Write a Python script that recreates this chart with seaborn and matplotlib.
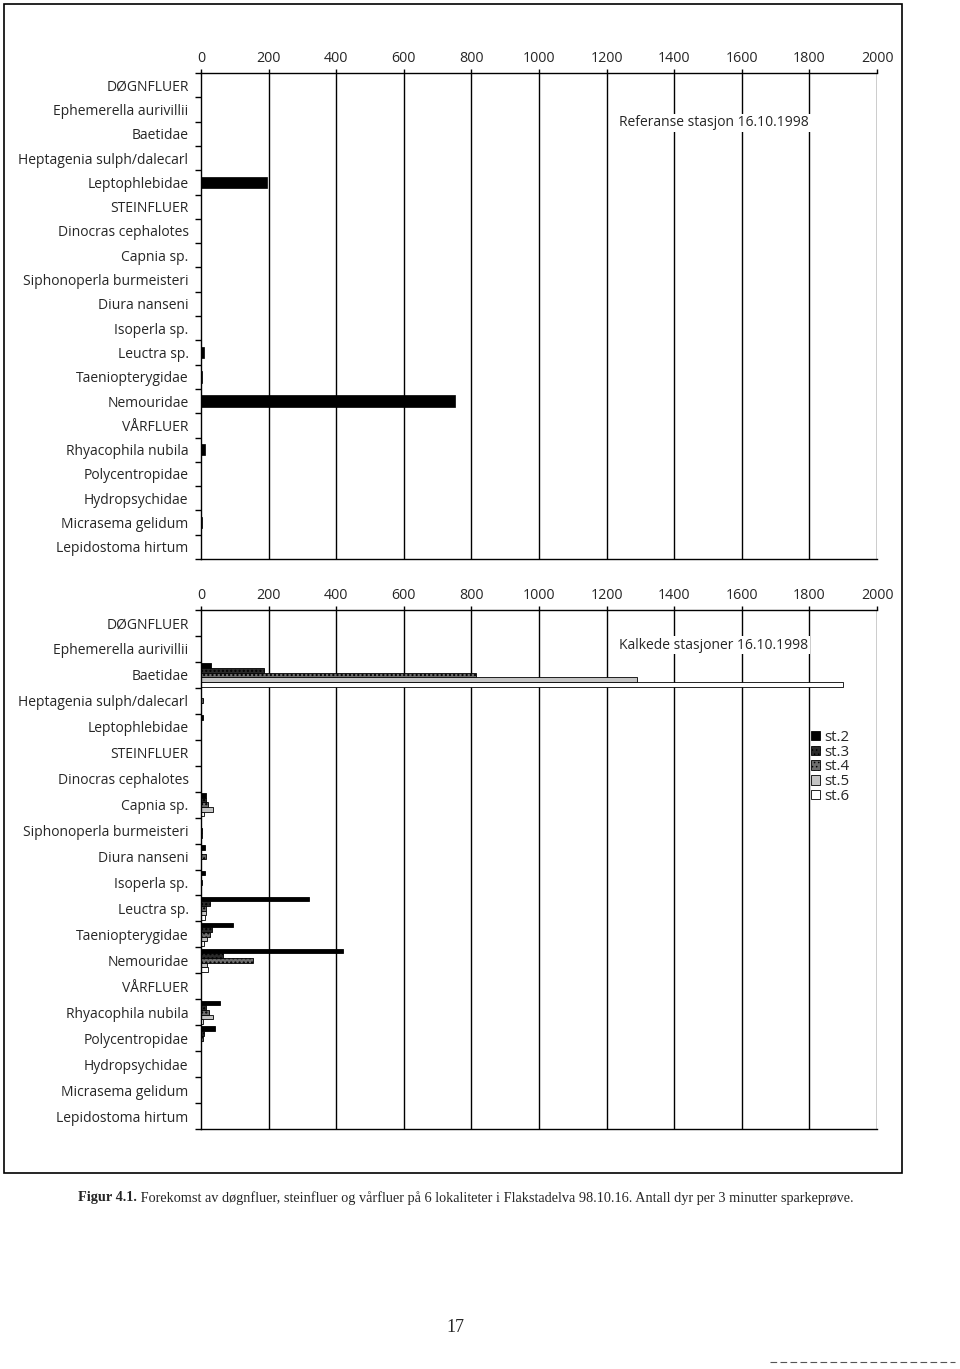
import numpy as np
import pandas as pd
import seaborn as sns
import matplotlib.pyplot as plt
from matplotlib.patches import Rectangle
from matplotlib.lines import Line2D

sns.set_theme(style="white")
plt.rcParams['font.family'] = ['Open Sans', 'DejaVu Sans']

categories = ["DØGNFLUER", "Ephemerella aurivillii", "Baetidae", "Heptagenia sulph/dalecarl",
              "Leptophlebidae", "STEINFLUER", "Dinocras cephalotes", "Capnia sp.",
              "Siphonoperla burmeisteri", "Diura nanseni", "Isoperla sp.", "Leuctra sp.",
              "Taeniopterygidae", "Nemouridae", "VÅRFLUER", "Rhyacophila nubila",
              "Polycentropidae", "Hydropsychidae", "Micrasema gelidum", "Lepidostoma hirtum"]

# Reference station (st.1)
ref_values = [0, 0, 0, 0, 195, 0, 0, 0, 0, 0, 0, 9, 3, 750, 0, 12, 0, 0, 4, 0]

stations = ["st.2", "st.3", "st.4", "st.5", "st.6"]
st2 = [0, 0, 30, 0, 5, 0, 0, 15, 0, 12, 12, 320, 95, 420, 0, 57, 42, 0, 0, 0]
st3 = [0, 0, 187, 0, 0, 0, 0, 15, 0, 0, 0, 27, 33, 65, 0, 15, 10, 0, 0, 0]
st4 = [0, 0, 815, 6, 0, 0, 0, 22, 3, 14, 3, 15, 27, 155, 0, 24, 6, 0, 0, 0]
st5 = [0, 0, 1290, 0, 0, 0, 0, 35, 3, 0, 0, 15, 18, 18, 0, 35, 0, 0, 0, 0]
st6 = [0, 0, 1900, 0, 0, 0, 0, 8, 0, 0, 0, 12, 10, 20, 0, 5, 0, 0, 0, 0]

xticks = list(range(0, 2001, 200))

top_title = "Referanse stasjon 16.10.1998"
bottom_title = "Kalkede stasjoner 16.10.1998"
caption_bold = "Figur 4.1."
caption_rest = (" Forekomst av døgnfluer, steinfluer og vårfluer på 6 lokaliteter i Flakstadelva "
                "98.10.16. Antall dyr per 3 minutter sparkeprøve.")
page_number = "17"

W, H = 960, 1369
fig = plt.figure(figsize=(W / 100, H / 100), dpi=100)
fig.patch.set_facecolor("white")

ax1 = fig.add_axes([201 / W, 1 - 559 / H, 676 / W, 486 / H])
ax2 = fig.add_axes([201 / W, 1 - 1129 / H, 676 / W, 519 / H])

df_ref = pd.DataFrame({"cat": categories, "val": ref_values})
sns.barplot(data=df_ref, y="cat", x="val", order=categories, orient="h",
            color="black", width=0.48, ax=ax1, saturation=1, edgecolor="black", linewidth=0.5)

df_st = pd.DataFrame({
    "cat": categories * 5,
    "val": st2 + st3 + st4 + st5 + st6,
    "station": np.repeat(stations, len(categories)),
})
palette = {"st.2": "#000000", "st.3": "#2a2a2a", "st.4": "#6e6e6e", "st.5": "#c4c4c4", "st.6": "#ffffff"}
sns.barplot(data=df_st, y="cat", x="val", hue="station", order=categories, hue_order=stations,
            orient="h", palette=palette, width=0.9, ax=ax2, saturation=1,
            edgecolor="black", linewidth=0.6)
hatches = {"st.2": None, "st.3": "....", "st.4": "....", "st.5": None, "st.6": None}
plt.rcParams['hatch.linewidth'] = 0.6
for cont, st in zip(ax2.containers, stations):
    for p in cont:
        if hatches[st]:
            p.set_hatch(hatches[st])
            p.set_edgecolor("#000000" if st == "st.4" else "#777777")
    if st == "st.3":
        for p in cont:
            p.set_edgecolor("#000000")

for ax in (ax1, ax2):
    n = len(categories)
    ax.set_xlim(0, 2000)
    ax.set_ylim(n - 0.5, -0.5)
    ax.set_xlabel("")
    ax.set_ylabel("")
    ax.set_xticks(xticks)
    ax.set_xticklabels([str(t) for t in xticks], fontsize=10.3)
    ax.xaxis.tick_top()
    ax.tick_params(axis="x", which="major", direction="out", length=3, width=1,
                   color="black", pad=2, top=True, bottom=False)
    ax.set_yticks(range(n))
    ax.set_yticklabels(categories, fontsize=10)
    ax.set_yticks(np.arange(-0.5, n, 1), minor=True)
    ax.tick_params(axis="y", which="major", length=0, pad=9)
    ax.tick_params(axis="y", which="minor", direction="out", length=4, width=1,
                   color="black", left=True)
    ax.grid(False)
    for t in xticks[1:]:
        ax.axvline(t, color="black", lw=1, zorder=0.5)
    for side in ("top", "bottom", "left"):
        ax.spines[side].set_visible(True)
        ax.spines[side].set_color("black")
        ax.spines[side].set_linewidth(1)
    ax.spines["right"].set_visible(False)
    ax.set_facecolor("white")
    if ax.get_legend() is not None:
        ax.get_legend().remove()

ax1.text(1238, 1.55, top_title, fontsize=10, ha="left", va="center",
         bbox=dict(facecolor="white", edgecolor="none", pad=1), zorder=5)
ax2.text(1238, 0.85, bottom_title, fontsize=10, ha="left", va="center",
         bbox=dict(facecolor="white", edgecolor="none", pad=1), zorder=5)

handles = [Rectangle((0, 0), 1, 1, facecolor=palette[s], edgecolor="black", lw=0.6,
                     hatch=hatches[s]) for s in stations]
fig.legend(handles, stations, loc="upper left", bbox_to_anchor=(811 / W, 1 - 730 / H),
           bbox_transform=fig.transFigure, frameon=False, fontsize=10.8,
           handlelength=0.6, handleheight=0.6, handletextpad=0.3,
           labelspacing=-0.02, borderpad=0, borderaxespad=0)

# page frame
fig.add_artist(Rectangle((4 / W, 1 - 1173 / H), 898 / W, 1169 / H, transform=fig.transFigure,
                         fill=False, edgecolor="black", lw=1.2))

# caption
renderer = fig.canvas.get_renderer()
cap_y = 1 - 1198 / H
tb = fig.text(78 / W, cap_y, caption_bold, fontsize=10.3, fontweight="bold",
              family="Liberation Serif", ha="left", va="center")
bb = tb.get_window_extent(renderer=renderer)
fig.text(bb.x1 / W, cap_y, caption_rest, fontsize=10.3, family="Liberation Serif",
         ha="left", va="center")
fig.text(455 / W, 1 - 1327 / H, page_number, fontsize=13, family="Liberation Serif",
         ha="center", va="center")

fig.add_artist(Line2D([770 / W, 955 / W], [1 - 1362 / H, 1 - 1362 / H], transform=fig.transFigure,
                      color="#555555", lw=0.8, ls=(0, (6, 3))))

fig.savefig("out.png", dpi=100, facecolor="white")
